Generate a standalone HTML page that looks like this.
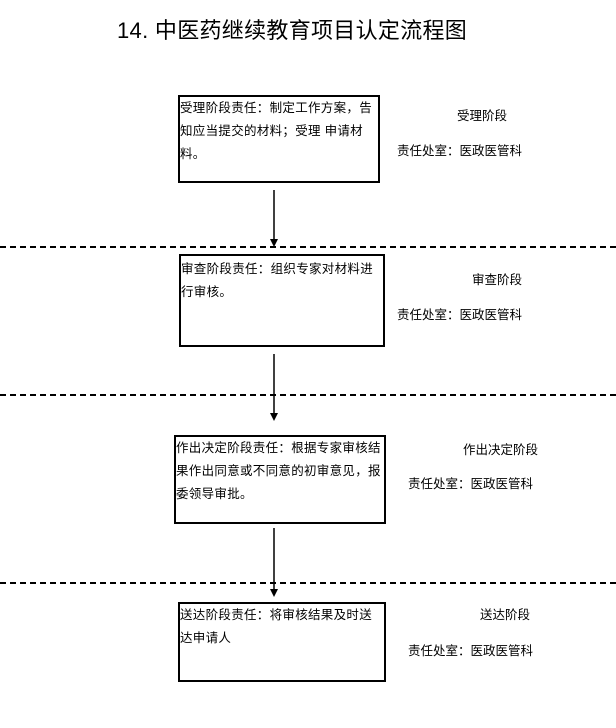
<!DOCTYPE html>
<html><head><meta charset="utf-8"><style>
body{margin:0;width:616px;height:728px;background:#fff;position:relative;overflow:hidden;font-family:"Liberation Sans","Noto Sans CJK SC",sans-serif;color:#000}
.t{position:absolute;white-space:nowrap}
.box{position:absolute;border:2px solid #000;box-sizing:border-box;font-size:12.5px;line-height:23px;padding:0 0 0 0;letter-spacing:0.3px}
.lab{position:absolute;white-space:nowrap;font-size:12.5px}
.dash{position:absolute;left:0;width:616px;height:0;border-top:2px dashed #000}
</style></head><body>
<div class="t" style="left:117px;top:13px;font-size:22px;letter-spacing:0.3px">14. 中医药继续教育项目认定流程图</div>

<div class="box" style="left:178px;top:95px;width:202px;height:88px">受理阶段责任：制定工作方案，告知应当提交的材料；受理 申请材料。</div>
<div class="box" style="left:179px;top:254px;width:206px;height:93px;padding-top:2px">审查阶段责任：组织专家对材料进行审核。</div>
<div class="box" style="left:174px;top:435px;width:212px;height:89px">作出决定阶段责任：根据专家审核结果作出同意或不同意的初审意见，报委领导审批。</div>
<div class="box" style="left:178px;top:602px;width:208px;height:80px">送达阶段责任：将审核结果及时送达申请人</div>

<div class="lab" style="left:457px;top:105px">受理阶段</div>
<div class="lab" style="left:397px;top:140px">责任处室：医政医管科</div>
<div class="lab" style="left:472px;top:269px">审查阶段</div>
<div class="lab" style="left:397px;top:304px">责任处室：医政医管科</div>
<div class="lab" style="left:463px;top:439px">作出决定阶段</div>
<div class="lab" style="left:408px;top:473px">责任处室：医政医管科</div>
<div class="lab" style="left:480px;top:604px">送达阶段</div>
<div class="lab" style="left:408px;top:640px">责任处室：医政医管科</div>

<div class="dash" style="top:246px"></div>
<div class="dash" style="top:394px"></div>
<div class="dash" style="top:582px"></div>

<svg width="616" height="728" style="position:absolute;left:0;top:0">
<g stroke="#000" stroke-width="1.5">
<line x1="274" y1="190" x2="274" y2="240"/>
<line x1="274" y1="354" x2="274" y2="414"/>
<line x1="274" y1="528" x2="274" y2="590"/>
</g>
<g fill="#000">
<polygon points="270,239 278,239 274,247"/>
<polygon points="270,413 278,413 274,421"/>
<polygon points="270,589 278,589 274,597"/>
</g>
</svg>
</body></html>
